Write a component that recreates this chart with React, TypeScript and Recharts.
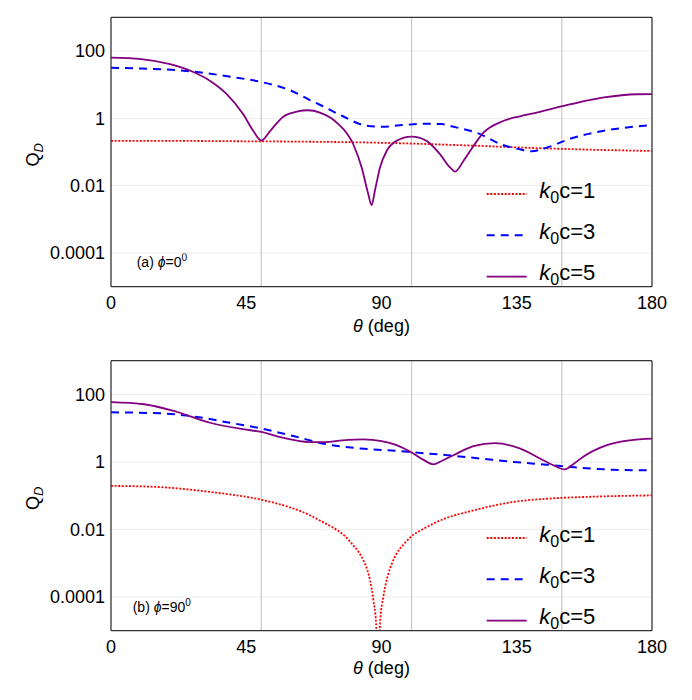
import React from 'react';
import { LineChart, Line, XAxis, YAxis, ReferenceLine, Legend } from 'recharts';

const FONT = '"Liberation Sans", Arial, sans-serif';

// ---------- data: panel (a) phi = 0 ----------
const THETA_A1 = [0, 20, 40, 60, 80, 100, 120, 140, 160, 180];
const Q_A1 = [0.214, 0.214, 0.209, 0.204, 0.195, 0.178, 0.155, 0.132, 0.117, 0.107];

const THETA_A3 = [0, 10, 20, 30, 40, 50, 60, 66, 70, 77, 85, 90, 97, 105, 110, 114, 122, 130, 136, 140, 145, 153, 164, 175, 180];
const Q_A3 = [31.6, 30.2, 27.5, 22.9, 17.0, 12.0, 6.6, 3.55, 2.4, 1.17, 0.6, 0.56, 0.63, 0.69, 0.676, 0.56, 0.363, 0.166, 0.12, 0.105, 0.135, 0.251, 0.427, 0.575, 0.624];

const THETA_A5 = [0, 10, 20, 27, 33, 38.5, 44, 47.3, 50, 53, 57.3, 61.8, 65.6, 69.5, 75.1, 80.6, 83.4, 85.6, 86.7, 87.8, 89.5, 91.7, 95, 100, 105, 109.5, 112.8, 114.5, 117.3, 120.6, 124, 130.5, 136, 142, 153, 164, 175, 180];
const Q_A5 = [63.1, 57.5, 39.8, 24.5, 12.9, 5.25, 1.32, 0.427, 0.219, 0.427, 1.12, 1.58, 1.74, 1.48, 0.75, 0.17, 0.0347, 0.00562, 0.00263, 0.00708, 0.0347, 0.107, 0.214, 0.288, 0.214, 0.0851, 0.0347, 0.0263, 0.055, 0.151, 0.38, 0.832, 1.15, 1.51, 2.63, 4.17, 5.19, 5.25];

// ---------- data: panel (b) phi = 90 ----------
const THETA_B1 = [0, 15, 33, 50, 60, 66, 70, 74, 77.5, 80.6, 82.5, 84, 85.2, 86.2, 87.3, 88.2, 88.85, 89.5, 90.6, 91.4, 92.3, 93.5, 95, 97.5, 100, 104, 107.2, 111, 115.6, 120, 128, 135, 145, 160, 180];
const Q_B1 = [0.195, 0.182, 0.129, 0.0759, 0.0437, 0.0269, 0.0174, 0.0112, 0.00676, 0.00339, 0.00209, 0.0012, 0.000661, 0.000309, 0.0000794, 0.0000162, 0.00000001, 0.0000162, 0.0001, 0.00024, 0.00049, 0.001, 0.00191, 0.00372, 0.00631, 0.0105, 0.0148, 0.0209, 0.0282, 0.0355, 0.0525, 0.0676, 0.0813, 0.0933, 0.102];

const THETA_B3 = [0, 17, 28, 39, 50, 61, 72, 83, 96, 101, 112, 123, 134, 145, 156, 167, 180];
const Q_B3 = [29.5, 27.5, 21.9, 14.8, 9.77, 5.75, 3.31, 2.51, 2.09, 1.91, 1.58, 1.26, 1.0, 0.832, 0.676, 0.589, 0.562];

const THETA_B5 = [0, 11, 22, 33, 44, 50, 57, 66, 71, 77, 84, 90, 95, 100.6, 104, 107.2, 110, 113.9, 120.6, 127.8, 136, 143.8, 147, 151, 154, 157, 165, 172.6, 180];
const Q_B5 = [58.9, 51.3, 30.2, 14.5, 9.33, 7.76, 5.25, 3.89, 3.89, 4.37, 4.68, 4.17, 3.16, 1.78, 1.15, 0.851, 1.07, 1.58, 2.95, 3.63, 2.51, 1.12, 0.813, 0.603, 0.891, 1.41, 3.16, 4.37, 4.9];

// ---------- axes ----------
const X_TICKS = [0, 45, 90, 135, 180];
const X_GRID = [50, 100, 150];
const Y_TICKS = [0.0001, 0.01, 1, 100];
const Y_DOMAIN = [0.00001, 1000];
const K_LABELS = ['1', '3', '5'];

const rows = (t: number[], q: number[]) => t.map((theta, i) => ({ theta, q: q[i] }));

const SERIES_STYLE = [
  { color: '#ff0000', dash: '2 1.6', width: 1.8 },
  { color: '#0000ff', dash: '8 6', width: 2 },
  { color: '#800080', dash: undefined as string | undefined, width: 1.8 },
];

const renderLegend = () => (
  <svg width={130} height={125} style={{ display: 'block', overflow: 'visible' }}>
    {K_LABELS.map((k, i) => {
      const y = 26 + 41.3 * i;
      const s = SERIES_STYLE[i];
      return (
        <g key={k}>
          <line x1={0.7} x2={40.7} y1={y} y2={y} stroke={s.color} strokeWidth={s.width} strokeDasharray={s.dash} />
          <text x={53.3} y={y + 3.5} fontSize={22} fontFamily={FONT} fill="#000">
            <tspan fontStyle="italic">k</tspan>
            <tspan fontSize={16} dy={5}>0</tspan>
            <tspan dy={-5}>{'c=' + k}</tspan>
          </text>
        </g>
      );
    })}
  </svg>
);

type PanelProps = {
  d1: { theta: number; q: number }[];
  d3: { theta: number; q: number }[];
  d5: { theta: number; q: number }[];
  tag: string;
  phi: string;
  top: number;
  tagX: number;
  tagY: number;
  xLabelY: number;
};

const Panel = ({ d1, d3, d5, tag, phi, top, tagX, tagY, xLabelY }: PanelProps) => {
  const data = [d1, d3, d5];
  return (
    <LineChart width={676} height={344} margin={{ top, right: 32, bottom: 15.3, left: 43 }}>
      {Y_TICKS.map((v) => (
        <ReferenceLine key={'h' + v} y={v} stroke="#ececec" strokeWidth={1} />
      ))}
      {X_GRID.map((v) => (
        <ReferenceLine key={'v' + v} x={v} stroke="#c8c8c8" strokeWidth={1.2} />
      ))}
      <XAxis
        dataKey="theta"
        type="number"
        domain={[0, 180]}
        ticks={X_TICKS}
        allowDataOverflow
        tickLine={false}
        tickSize={6}
        tickMargin={4}
        height={50}
        axisLine={{ stroke: '#333', strokeWidth: 1.3 }}
        tick={{ fontSize: 18, fill: '#000', fontFamily: FONT }}
      />
      <YAxis
        type="number"
        scale="log"
        domain={Y_DOMAIN}
        ticks={Y_TICKS}
        allowDataOverflow
        tickLine={false}
        tickSize={6}
        tickMargin={0}
        width={60}
        axisLine={{ stroke: '#333', strokeWidth: 1.3 }}
        tick={{ fontSize: 18, fill: '#000', fontFamily: FONT }}
        tickFormatter={(v: number) => String(v)}
      />
      <ReferenceLine y={1000} stroke="#333" strokeWidth={1.3} />
      <ReferenceLine x={180} stroke="#333" strokeWidth={1.3} />
      {data.map((d, i) => (
        <Line
          key={K_LABELS[i]}
          data={d}
          dataKey="q"
          name={'k0c=' + K_LABELS[i]}
          type="monotone"
          dot={false}
          stroke={SERIES_STYLE[i].color}
          strokeWidth={SERIES_STYLE[i].width}
          strokeDasharray={SERIES_STYLE[i].dash}
          isAnimationActive={false}
        />
      ))}
      <Legend
        layout="vertical"
        align="center"
        verticalAlign="middle"
        content={renderLegend}
        wrapperStyle={{ position: 'absolute', left: 478, top: 160, bottom: 'auto', right: 'auto', width: 130, height: 125 }}
      />
      <text x={0} y={0} transform={`translate(31.3, ${top + 137.5}) rotate(-90)`} textAnchor="middle" fontSize={18} fontFamily={FONT} fill="#000">
        Q<tspan fontSize={13} fontStyle="italic" dy={4}>D</tspan>
      </text>
      <text x={373.5} y={xLabelY} textAnchor="middle" fontSize={18} fontFamily={FONT} fill="#000">
        <tspan fontStyle="italic">θ</tspan> (deg)
      </text>
      <text x={tagX} y={tagY} fontSize={14} fontFamily={FONT} fill="#000">
        {tag + ' '}
        <tspan fontStyle="italic">ϕ</tspan>
        {'=' + phi}
        <tspan fontSize={10} dy={-6}>0</tspan>
      </text>
    </LineChart>
  );
};

export default function App() {
  return (
    <div style={{ width: 676, height: 688 }}>
      <Panel d1={rows(THETA_A1, Q_A1)} d3={rows(THETA_A3, Q_A3)} d5={rows(THETA_A5, Q_A5)} tag="(a)" phi="0" top={9.3} tagX={128.7} tagY={259.3} xLabelY={324} />
      <Panel d1={rows(THETA_B1, Q_B1)} d3={rows(THETA_B3, Q_B3)} d5={rows(THETA_B5, Q_B5)} tag="(b)" phi="90" top={8.7} tagX={124.7} tagY={259.7} xLabelY={321.5} />
    </div>
  );
}
